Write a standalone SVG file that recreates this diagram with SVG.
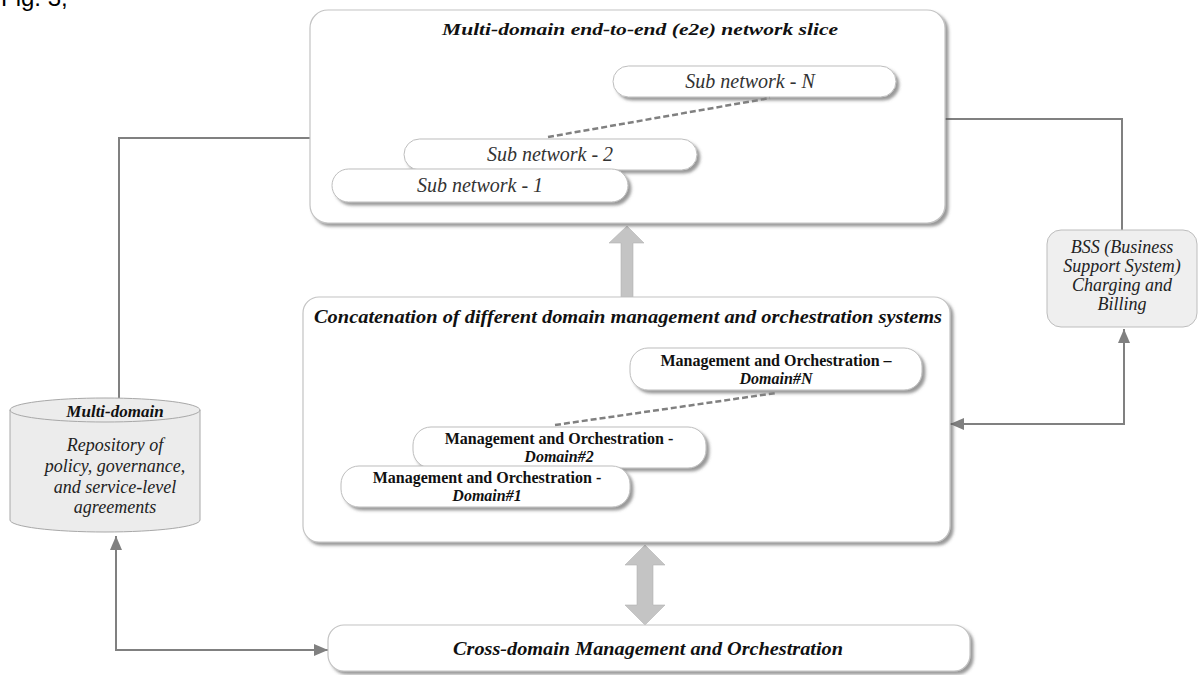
<svg xmlns="http://www.w3.org/2000/svg" width="1202" height="675" viewBox="0 0 1202 675">
<style>
.box{fill:#fff;stroke:#c4c4c4;stroke-width:1.2}
.pill{fill:#fff;stroke:#bdbdbd;stroke-width:1}
.gray{fill:#ececec;stroke:#a8a8a8;stroke-width:1}
.title{font-family:"Liberation Serif",serif;font-weight:bold;font-style:italic;fill:#111;text-anchor:middle}
.sub{font-family:"Liberation Serif",serif;font-style:italic;font-size:20px;fill:#333;text-anchor:middle}
.mo{font-family:"Liberation Serif",serif;font-weight:bold;font-size:16px;fill:#111;text-anchor:middle}
.moi{font-family:"Liberation Serif",serif;font-weight:bold;font-style:italic;font-size:16px;fill:#111;text-anchor:middle}
.it{font-family:"Liberation Serif",serif;font-style:italic;font-size:18px;fill:#222;text-anchor:middle}
.conn{fill:none;stroke:#808080;stroke-width:2}
.dash{fill:none;stroke:#808080;stroke-width:2.5;stroke-dasharray:6 3}
.block{fill:#c4c4c4;stroke:#b4b4b4;stroke-width:0.6}
</style>
<defs>
<filter id="sh" x="-10%" y="-10%" width="130%" height="140%">
<feDropShadow dx="3" dy="3" stdDeviation="1.8" flood-color="#555" flood-opacity="0.6"/>
</filter>
<marker id="ah" markerUnits="userSpaceOnUse" markerWidth="14" markerHeight="12" refX="14" refY="6" orient="auto-start-reverse">
<path d="M0,0 L14,6 L0,12 z" fill="#808080"/>
</marker>
</defs>

<text x="1" y="6" font-family="Liberation Sans, Arial, sans-serif" font-size="24" fill="#000">Fig. 3,</text>

<g id="connectors">
<polyline class="conn" points="310,138 119,138 119,398"/>
<polyline class="conn" points="945,119 1122,119 1122,230"/>
<polyline class="conn" points="950,424 1124,424 1124,329" marker-start="url(#ah)" marker-end="url(#ah)"/>
<polyline class="conn" points="116,536 116,650 328,650" marker-start="url(#ah)" marker-end="url(#ah)"/>
<polygon class="block" points="627,226 644,243 633,243 633,297 621,297 621,243 609,243"/>
<polygon class="block" points="645,545 665,565 653,565 653,605 665,605 645,625 625,605 637,605 637,565 625,565"/>
</g>

<g id="e2e-slice">
<rect class="box" x="310" y="10" width="635" height="213" rx="18" filter="url(#sh)"/>
<text class="title" x="640" y="35" font-size="16" textLength="396" lengthAdjust="spacingAndGlyphs">Multi-domain end-to-end (e2e) network slice</text>
</g>

<g id="subnet-n">
<rect class="pill" x="613" y="66" width="283" height="31" rx="15.5" filter="url(#sh)"/>
<text class="sub" x="750" y="88">Sub network - N</text>
</g>

<g id="subnet-dash">
<line class="dash" x1="548" y1="137" x2="770" y2="98"/>
</g>

<g id="subnet-2">
<rect class="pill" x="404" y="139" width="293" height="31" rx="15.5" filter="url(#sh)"/>
<text class="sub" x="550" y="161">Sub network - 2</text>
</g>

<g id="subnet-1">
<rect class="pill" x="332" y="169" width="296" height="33" rx="16.5" filter="url(#sh)"/>
<text class="sub" x="480" y="192">Sub network - 1</text>
</g>

<g id="concatenation">
<rect class="box" x="303" y="297" width="647" height="245" rx="16" filter="url(#sh)"/>
<text class="title" x="628" y="323" font-size="18" textLength="628" lengthAdjust="spacingAndGlyphs">Concatenation of different domain management and orchestration systems</text>
</g>

<g id="mo-n">
<rect class="pill" x="630" y="348" width="292" height="42" rx="18" filter="url(#sh)"/>
<text class="mo" x="776" y="366">Management and Orchestration –</text>
<text class="moi" x="776" y="384">Domain#N</text>
</g>

<g id="mo-dash">
<line class="dash" x1="555" y1="425" x2="776" y2="393"/>
</g>

<g id="mo-2">
<rect class="pill" x="413" y="427" width="293" height="41" rx="18" filter="url(#sh)"/>
<text class="mo" x="559" y="444">Management and Orchestration -</text>
<text class="moi" x="559" y="462">Domain#2</text>
</g>

<g id="mo-1">
<rect class="pill" x="341" y="466" width="289" height="41" rx="18" filter="url(#sh)"/>
<text class="mo" x="487" y="483">Management and Orchestration -</text>
<text class="moi" x="487" y="501">Domain#1</text>
</g>

<g id="cross-domain">
<rect class="box" x="328" y="625" width="642" height="46" rx="16" filter="url(#sh)"/>
<text class="title" x="648" y="655" font-size="18" textLength="390" lengthAdjust="spacingAndGlyphs">Cross-domain Management and Orchestration</text>
</g>

<g id="repository">
<path class="gray" d="M10,410 A95,12 0 0 1 200,410 L200,520 A95,12 0 0 1 10,520 Z"/>
<path fill="none" stroke="#a8a8a8" stroke-width="1" d="M10,410 A95,12 0 0 0 200,410"/>
<text class="title" x="115" y="417" font-size="17">Multi-domain</text>
<text class="it" x="115" y="451">Repository of</text>
<text class="it" x="115" y="472">policy, governance,</text>
<text class="it" x="115" y="493">and service-level</text>
<text class="it" x="115" y="513">agreements</text>
</g>

<g id="bss">
<rect x="1047" y="230" width="150" height="97" rx="14" fill="#efefef" stroke="#bdbdbd" stroke-width="1"/>
<text class="it" x="1122" y="253">BSS (Business</text>
<text class="it" x="1122" y="272">Support System)</text>
<text class="it" x="1122" y="291">Charging and</text>
<text class="it" x="1122" y="310">Billing</text>
</g>
</svg>
